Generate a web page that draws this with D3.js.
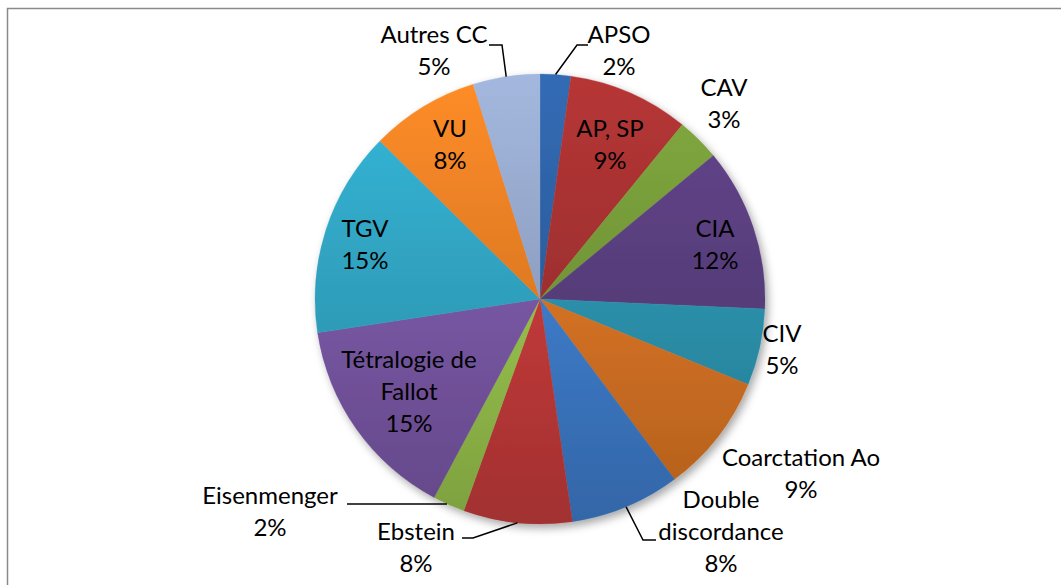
<!DOCTYPE html>
<html>
<head>
<meta charset="utf-8">
<script src="https://cdn.jsdelivr.net/npm/d3@7"></script>
<style>
  body { margin: 0; background: #fff; }
  svg { display: block; }
  text { font-family: Lato, "Open Sans", sans-serif; fill: #000; }
</style>
</head>
<body>
<svg id="chart" width="1061" height="585"></svg>
<script>
const categories = ["APSO", "AP, SP", "CAV", "CIA", "CIV", "Coarctation Ao",
  "Double discordance", "Ebstein", "Eisenmenger", "Tétralogie de Fallot",
  "TGV", "VU", "Autres CC"];
const shares = [2.2, 8.7, 3.1, 11.7, 5.5, 8.6, 7.9, 7.8, 2.3, 14.8, 14.8, 7.8, 4.8];
const percentLabels = ["2%", "9%", "3%", "12%", "5%", "9%", "8%", "8%", "2%", "15%", "15%", "8%", "5%"];
const labelLines = [["APSO"], ["AP, SP"], ["CAV"], ["CIA"], ["CIV"], ["Coarctation Ao"],
  ["Double", "discordance"], ["Ebstein"], ["Eisenmenger"], ["Tétralogie de", "Fallot"],
  ["TGV"], ["VU"], ["Autres CC"]];

// couleurs (teinte au milieu du disque)
const colors = ["#2B5B9A", "#9C2E2E", "#6F9236", "#553C78", "#2A8DA8", "#D06F22",
  "#3C78C4", "#BE3838", "#93BC4A", "#7555A0", "#2E9DBA", "#DE7822", "#8C9DBE"];

// position des étiquettes : x centre, ligne de base de la 1re ligne, coudes du trait
const labelPos = {
  "APSO": { x: 619, y: 43, leader: [[577, 45], [588, 45]] },
  "AP, SP": { x: 610, y: 137 },
  "CAV": { x: 724, y: 96 },
  "CIA": { x: 715, y: 237 },
  "CIV": { x: 782, y: 342 },
  "Coarctation Ao": { x: 801, y: 466 },
  "Double discordance": { x: 721, y: 508, leader: [[643, 540], [656, 540]] },
  "Ebstein": { x: 416, y: 540, leader: [[473, 538], [462, 538]] },
  "Eisenmenger": { x: 270, y: 504, leader: [[447, 504], [347, 504]] },
  "Tétralogie de Fallot": { x: 409, y: 368 },
  "TGV": { x: 365, y: 237 },
  "VU": { x: 450, y: 137 },
  "Autres CC": { x: 434, y: 43, leader: [[502, 45], [489, 45]] }
};

const svg = d3.select("#chart");
const cx = 540, cy = 299, r = 225;
const lineH = 32;

// cadre
svg.append("rect")
  .attr("x", 7.5).attr("y", 8.5)
  .attr("width", 1200).attr("height", 700)
  .attr("fill", "none").attr("stroke", "#8a8a8a").attr("stroke-width", 1.5);

const defs = svg.append("defs");
const shadow = defs.append("filter").attr("id", "shadow")
  .attr("x", "-10%").attr("y", "-10%").attr("width", "130%").attr("height", "130%");
shadow.append("feDropShadow")
  .attr("dx", 3).attr("dy", 4).attr("stdDeviation", 4)
  .attr("flood-color", "#000").attr("flood-opacity", 0.35);

// dégradé vertical sur tout le disque (coordonnées locales du groupe)
colors.forEach((c, i) => {
  let g = defs.append("linearGradient").attr("id", "grad" + i)
    .attr("gradientUnits", "userSpaceOnUse")
    .attr("x1", 0).attr("x2", 0).attr("y1", -r).attr("y2", r);
  g.append("stop").attr("offset", "0%").attr("stop-color", d3.rgb(c).brighter(0.45));
  g.append("stop").attr("offset", "100%").attr("stop-color", d3.rgb(c).darker(0.45));
});

const pie = d3.pie().sort(null).value(d => d);
const arcs = pie(shares);
const arc = d3.arc().innerRadius(0).outerRadius(r);

const gPie = svg.append("g")
  .attr("transform", `translate(${cx},${cy})`)
  .attr("filter", "url(#shadow)");

gPie.selectAll("path")
  .data(arcs)
  .enter()
  .append("path")
  .attr("d", arc)
  .attr("fill", (d, i) => `url(#grad${i})`)
  .attr("stroke", (d, i) => `url(#grad${i})`)
  .attr("stroke-width", 0.3);

// traits de rappel
arcs.forEach((d, i) => {
  let p = labelPos[categories[i]];
  if (!p.leader) return;
  let a = (d.startAngle + d.endAngle) / 2;
  let start = [cx + r * Math.sin(a), cy - r * Math.cos(a)];
  if (categories[i] == "Eisenmenger") start = p.leader[0];
  svg.append("path")
    .attr("d", d3.line()([start].concat(p.leader)))
    .attr("fill", "none")
    .attr("stroke", "#000")
    .attr("stroke-width", 1.5);
});

// étiquettes
arcs.forEach((d, i) => {
  let p = labelPos[categories[i]];
  let lines = labelLines[i].concat([percentLabels[i]]);
  let t = svg.append("text")
    .attr("text-anchor", "middle")
    .attr("font-size", 24);
  lines.forEach((s, k) => {
    t.append("tspan").attr("x", p.x).attr("y", p.y + k * lineH).text(s);
  });
});
</script>
</body>
</html>
